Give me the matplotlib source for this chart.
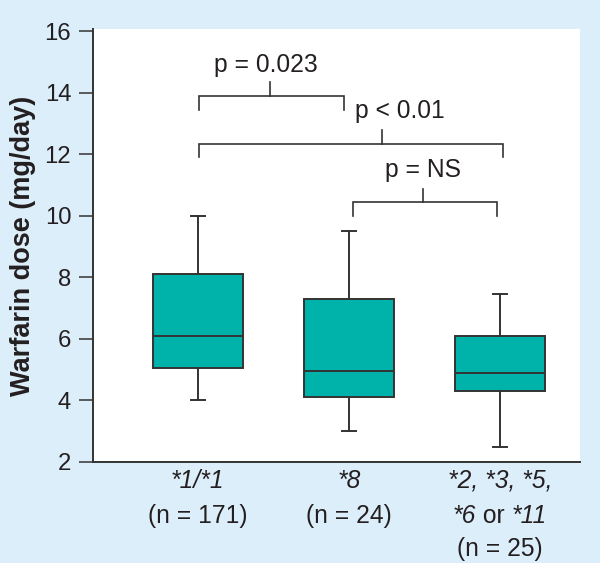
import matplotlib
matplotlib.use('Agg')
import matplotlib.pyplot as plt

plt.rcParams['font.family'] = ['Liberation Sans', 'DejaVu Sans']

# box statistics (mg/day)
groups = ['*1/*1', '*8', '*2, *3, *5, *6 or *11']
n_counts = [171, 24, 25]
whisker_low = [4.0, 3.0, 2.5]
q1 = [5.05, 4.1, 4.3]
medians = [6.1, 4.95, 4.9]
q3 = [8.1, 7.3, 6.1]
whisker_high = [10.0, 9.5, 7.45]

# significance brackets
br_left = [1.01, 1.01, 2.03]
br_right = [1.97, 3.02, 2.98]
br_y = [13.9, 12.35, 10.45]
br_tick_x = [1.48, 2.22, 2.49]
br_labels = ['p = 0.023', 'p < 0.01', 'p = NS']
br_text_x = [1.45, 2.34, 2.49]
br_text_y = [14.67, 13.2, 11.28]

yticks = [2, 4, 6, 8, 10, 12, 14, 16]

# x labels, each line a list of (text, style) pieces
xlabel_lines = [
    [[('*1/*1', 'italic')], [('(n = 171)', 'normal')]],
    [[('*8', 'italic')], [('(n = 24)', 'normal')]],
    [[('*2, *3, *5,', 'italic')],
     [('*6', 'italic'), (' or ', 'normal'), ('*11', 'italic')],
     [('(n = 25)', 'normal')]],
]

BG = '#dceefa'
TEAL = '#00b3aa'
DARK = '#333333'
TEXT = '#231f20'

fig = plt.figure(figsize=(6.0, 5.63), dpi=100, facecolor=BG)
ax = fig.add_axes([0.1545, 0.1794, 0.8122, 0.7686])
ax.set_facecolor('white')

stats = []
for i in range(len(groups)):
    stats.append(dict(med=medians[i], q1=q1[i], q3=q3[i],
                      whislo=whisker_low[i], whishi=whisker_high[i],
                      fliers=[], label=groups[i]))

line_kw = dict(color=DARK, linewidth=1.4)
ax.bxp(stats, positions=[1, 2, 3], widths=0.595, capwidths=0.095,
       patch_artist=True, showfliers=False,
       boxprops=dict(facecolor=TEAL, edgecolor=DARK, linewidth=1.4),
       medianprops=line_kw, whiskerprops=line_kw, capprops=line_kw)

# brackets
for l, r, y, tx in zip(br_left, br_right, br_y, br_tick_x):
    ax.plot([l, l, r, r], [y - 0.44, y, y, y - 0.44], color=DARK,
            linewidth=1.2, solid_joinstyle='miter', clip_on=False)
    ax.plot([tx, tx], [y, y + 0.44], color=DARK, linewidth=1.2)
for s, x, y in zip(br_labels, br_text_x, br_text_y):
    ax.text(x, y, s, ha='center', va='baseline', fontsize=17.7, color=TEXT)

ax.set_xlim(0.305, 3.53)
ax.set_ylim(2, 16.07)
ax.set_yticks(yticks)
ax.set_xticks([])
ax.tick_params(axis='y', direction='out', length=10, width=1.1,
               color=DARK, pad=5.5, labelsize=17.2, labelcolor=TEXT)
for side in ('top', 'right'):
    ax.spines[side].set_visible(False)
for side in ('left', 'bottom'):
    ax.spines[side].set_color(DARK)
    ax.spines[side].set_linewidth(1.4)

fig.text(23 / 600, 1 - 246 / 563, 'Warfarin dose (mg/day)', rotation=90,
         ha='center', va='center', fontsize=19.5, fontweight='bold',
         color=TEXT)

# x labels built piece by piece so italic and upright text can mix
renderer = fig.canvas.get_renderer()
baselines = [0.1341, 0.0719, 0.01155]
for pos, lines in zip([1, 2, 3], xlabel_lines):
    xc = ax.transData.transform((pos, 0))[0]
    for line, yb in zip(lines, baselines):
        texts = [fig.text(0, yb, s, style=st, fontsize=17.7, color=TEXT,
                          ha='left', va='baseline') for s, st in line]
        widths = [t.get_window_extent(renderer).width for t in texts]
        x_px = xc - sum(widths) / 2
        for t, w in zip(texts, widths):
            t.set_x(x_px / fig.bbox.width)
            x_px += w

fig.savefig('out.png', dpi=100, facecolor=BG)
